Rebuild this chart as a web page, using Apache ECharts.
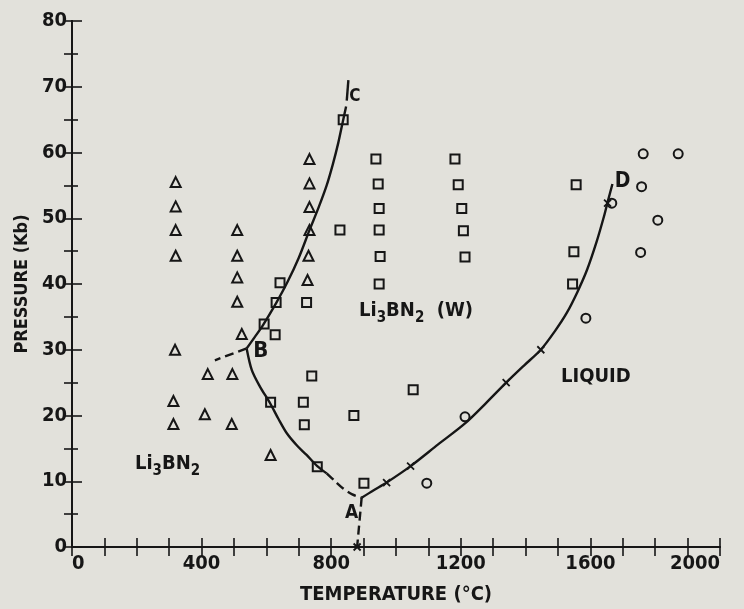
<!DOCTYPE html>
<html><head><meta charset="utf-8">
<script src="https://cdn.jsdelivr.net/npm/echarts@6/dist/echarts.min.js"></script>
<style>html,body{margin:0;padding:0;background:#e2e1db}#c{width:744px;height:609px}</style>
</head><body><div id="c"></div>
<script>
// ---- data (temperature °C, pressure Kb) ----
const triangles = [[320,55.5],[320,51.8],[320,48.2],[320,44.3],[510,48.2],[510,44.3],[510,41],[510,37.3],[524,32.4],
  [318,30],[419,26.3],[495,26.3],[313,22.2],[410,20.2],[313,18.7],[493,18.7],[613,14],
  [733,59],[733,55.3],[733,51.7],[733,48.2],[730,44.3],[727,40.6]];
const squares = [[837,65],[938,59],[945,55.2],[948,51.5],[948,48.2],[951,44.2],[948,40],[827,48.2],
  [642,40.2],[630,37.2],[724,37.2],[593,33.9],[627,32.3],[740,26],[613,22],[714,22],[717,18.6],
  [870,20],[757,12.2],[901,9.7],[1182,59],[1192,55.1],[1203,51.5],[1208,48.1],[1213,44.1],
  [1556,55.1],[1549,44.9],[1545,40],[1053,23.9]];
const circles = [[1763,59.8],[1871,59.8],[1758,54.8],[1666,52.3],[1808,49.7],[1755,44.8],[1586,34.8],[1213,19.8],[1095,9.7]];
const crosses = [[971,9.8],[1045,12.3],[1340,25],[1447,30],[1653,52.3],[880,0]];

const curveCB = [[539,30.2],[565,32],[590,33.8],[630,37.1],[665,40.3],[700,44],[733,48.2],[760,51.5],[786,55],[805,58.2],[822,61.5],[835,64.5],[846,67]];
const curveCtop = [[848,67.9],[853,71]];
const curveBleft = [[539,30.2],[441,28.4]];
const curveBA = [[539,30.2],[555,26.9],[580,24.4],[611,21.9],[637,19.5],[663,17.3],[695,15.4],[724,14],[757,12.3],[786,11.2]];
const curveBAdash = [[786,11.2],[812,10],[837,8.9],[865,8],[894,7.5]];
const curveAdown = [[894,7.5],[880,0]];
const curveAD = [[894,7.5],[930,8.6],[971,9.8],[1045,12.3],[1130,15.6],[1213,18.8],[1280,22],[1340,25],[1395,27.6],[1447,30],[1490,32.8],[1527,35.6],[1560,38.8],[1590,42.2],[1619,46.4],[1642,50.3],[1655,52.8],[1668,55.2]];

const annotations = [[583,29.7,'B'],[863,5.2,'A'],[873,68.5,'C'],[1699,55.6,'D'],[295,12.7,'Li3BN2'],[1062,36.0,'Li3BN2 (W)'],[1617,25.9,'LIQUID']];

const xLabels = [0,400,800,1200,1600,2000];
const yLabels = [0,10,20,30,40,50,60,70,80];

// ---- styling ----
const INK = '#161616';
const FONT = '"DejaVu Sans Condensed","Liberation Sans Narrow","DejaVu Sans",sans-serif';
const letterSize = {A:19, B:22, C:17, D:21};

function lineSeries(data, dashed, smooth) {
  return {type:'line', data, symbol:'none', showSymbol:false, smooth: smooth ? 0.3 : false,
    lineStyle:{color:INK, width:2.4, type: dashed ? [9,5] : 'solid', opacity:1}, z:2, silent:true};
}
function markerSeries(data, symbol, size) {
  return {type:'scatter', data, symbol, symbolSize:size,
    itemStyle:{color:'transparent', borderColor:INK, borderWidth:2, opacity:1}, z:3, silent:true};
}

const chart = echarts.init(document.getElementById('c'), null, {renderer:'canvas'});
const axisLineStyle = {color:INK, width:2};
chart.setOption({
  backgroundColor:'#e2e1db',
  animation:false,
  grid:{left:72, right:24, top:21, bottom:62, outerBoundsMode:'none', containLabel:false},
  xAxis:[
    {type:'value', position:'bottom', min:0, max:2000, interval:100,
     axisLine:{show:true, lineStyle:axisLineStyle},
     axisTick:{show:true, inside:true, length:9, lineStyle:{color:INK, width:1.6}},
     axisLabel:{fontFamily:FONT, fontWeight:'bold', fontSize:20, color:INK, margin:7,
       alignMinLabel:'left', alignMaxLabel:'right',
       formatter: v => xLabels.includes(v) ? String(v) : ''},
     splitLine:{show:false},
     name:'TEMPERATURE (°C)', nameLocation:'middle', nameGap:38,
     nameTextStyle:{fontFamily:FONT, fontWeight:'bold', fontSize:20, color:INK}},
    {type:'value', position:'top', min:0, max:2000, interval:100,
     axisLine:{show:true, lineStyle:axisLineStyle},
     axisTick:{show:true, inside:true, length:9, lineStyle:{color:INK, width:1.6}},
     axisLabel:{show:false}, splitLine:{show:false}}
  ],
  yAxis:[
    {type:'value', position:'left', min:0, max:80, interval:10,
     axisLine:{show:true, lineStyle:axisLineStyle},
     axisTick:{show:true, inside:true, length:10, lineStyle:{color:INK, width:1.6}},
     minorTick:{show:true, splitNumber:2, length:6, lineStyle:{color:INK, width:1.6}},
     axisLabel:{fontFamily:FONT, fontWeight:'bold', fontSize:20, color:INK, margin:5,
       formatter: v => yLabels.includes(v) ? String(v) : ''},
     splitLine:{show:false},
     name:'PRESSURE (Kb)', nameLocation:'middle', nameGap:38,
     nameTextStyle:{fontFamily:FONT, fontWeight:'bold', fontSize:18, color:INK}},
    {type:'value', position:'right', min:0, max:80, interval:5,
     axisLine:{show:true, lineStyle:axisLineStyle},
     axisTick:{show:true, inside:true, length:8, lineStyle:{color:INK, width:1.6}},
     axisLabel:{show:false}, splitLine:{show:false}}
  ],
  series:[
    lineSeries(curveCB, false, true),
    lineSeries(curveCtop, false, false),
    lineSeries(curveBleft, true, false),
    lineSeries(curveBA, false, true),
    lineSeries(curveBAdash, true, true),
    lineSeries(curveAdown, true, false),
    lineSeries(curveAD, false, true),
    markerSeries(triangles, 'triangle', 10),
    markerSeries(squares, 'rect', 9),
    markerSeries(circles, 'circle', 9),
    {type:'scatter', data:crosses, symbol:'path://M0,0L10,10M10,0L0,10', symbolSize:7,
     itemStyle:{color:'transparent', borderColor:INK, borderWidth:1.8, opacity:1}, z:3, silent:true},
    {type:'scatter', data:annotations, symbolSize:0, z:4, silent:true,
     itemStyle:{opacity:1},
     label:{show:true, position:'inside', color:INK, fontFamily:FONT, fontWeight:'bold',
       formatter: p => {
         const t = p.data[2];
         if (t.startsWith('Li3BN2')) {
           return '{m|Li}{s|3}{m|BN}{s|2}' + (t.length > 6 ? '{m|  (W)}' : '');
         }
         if (letterSize[t]) return '{' + t + '|' + t + '}';
         return '{m|' + t + '}';
       },
       rich:{
         m:{fontFamily:FONT, fontWeight:'bold', fontSize:20, lineHeight:20, verticalAlign:'top', color:INK},
         s:{fontFamily:FONT, fontWeight:'bold', fontSize:15, lineHeight:15, verticalAlign:'top', padding:[10,0,0,0], color:INK},
         A:{fontFamily:FONT, fontWeight:'bold', fontSize:letterSize.A, color:INK},
         B:{fontFamily:FONT, fontWeight:'bold', fontSize:letterSize.B, color:INK},
         C:{fontFamily:FONT, fontWeight:'bold', fontSize:letterSize.C, color:INK},
         D:{fontFamily:FONT, fontWeight:'bold', fontSize:letterSize.D, color:INK}
       }}}
  ]
});
</script></body></html>
